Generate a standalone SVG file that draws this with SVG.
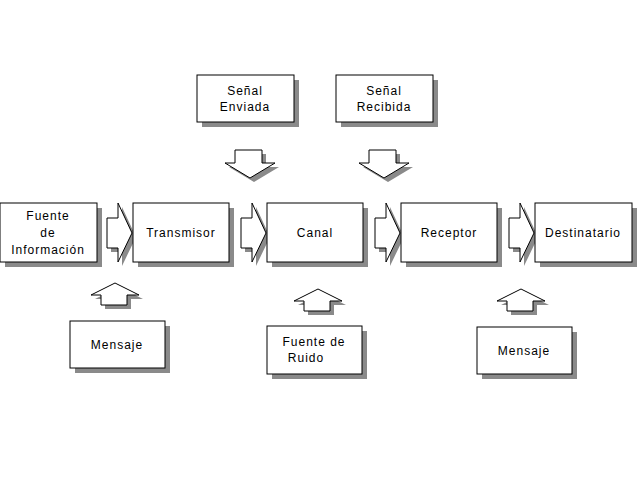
<svg xmlns="http://www.w3.org/2000/svg" width="640" height="480" viewBox="0 0 640 480">
<style>
.b{fill:#fff;stroke:#000;stroke-width:1}
.s{fill:#8a8a8a}
.a{fill:#fff;stroke:#000;stroke-width:1}
text{font-family:"Liberation Sans",Arial,sans-serif;font-size:12px;fill:#000;text-anchor:middle;letter-spacing:1px}
</style>
<defs>
<path id="ra" d="M0,15 H11 V0 L25,30 L11,59 V45 H0 Z"/>
<path id="da" d="M10,0 H37 V13 H50 L25,28 L0,13 H10 Z"/>
<path id="ua" d="M24,0 L48,12 H36 V22 H10 V12 H0 Z"/>
</defs>
<rect width="640" height="480" fill="#fff"/>
<g id="connectors">
<g fill="#8a8a8a"><use href="#ra" x="111" y="207"/><use href="#ra" x="245" y="207"/><use href="#ra" x="379" y="207"/><use href="#ra" x="513" y="207"/>
<use href="#da" x="229" y="154"/><use href="#da" x="363" y="154"/>
<use href="#ua" x="95" y="287"/><use href="#ua" x="298" y="293"/><use href="#ua" x="501" y="293"/></g>
<g class="a"><use href="#ra" x="107" y="203"/><use href="#ra" x="241" y="203"/><use href="#ra" x="375" y="203"/><use href="#ra" x="509" y="203"/>
<use href="#da" x="225" y="150"/><use href="#da" x="359" y="150"/>
<use href="#ua" x="91" y="283"/><use href="#ua" x="294" y="289"/><use href="#ua" x="497" y="289"/></g>
</g>
<g id="fuente"><rect class="s" x="5" y="208" width="97" height="59"/><rect class="b" x="0" y="203" width="97" height="59"/><text x="48" y="220">Fuente</text><text x="48" y="237">de</text><text x="48" y="254">Información</text></g>
<g id="transmisor"><rect class="s" x="138" y="208" width="96" height="59"/><rect class="b" x="133" y="203" width="96" height="59"/><text x="181" y="237">Transmisor</text></g>
<g id="canal"><rect class="s" x="272" y="208" width="96" height="59"/><rect class="b" x="267" y="203" width="96" height="59"/><text x="315" y="237">Canal</text></g>
<g id="receptor"><rect class="s" x="406" y="208" width="96" height="59"/><rect class="b" x="401" y="203" width="96" height="59"/><text x="449" y="237">Receptor</text></g>
<g id="destinatario"><rect class="s" x="540" y="208" width="97" height="59"/><rect class="b" x="535" y="203" width="97" height="59"/><text x="583" y="237">Destinatario</text></g>
<g id="enviada"><rect class="s" x="202" y="80" width="97" height="47"/><rect class="b" x="197" y="75" width="97" height="47"/><text x="245" y="95">Señal</text><text x="245" y="111">Enviada</text></g>
<g id="recibida"><rect class="s" x="341" y="80" width="97" height="47"/><rect class="b" x="336" y="75" width="97" height="47"/><text x="384" y="95">Señal</text><text x="384" y="111">Recibida</text></g>
<g id="mensaje1"><rect class="s" x="75" y="326" width="95" height="47"/><rect class="b" x="70" y="321" width="95" height="47"/><text x="117" y="349">Mensaje</text></g>
<g id="ruido"><rect class="s" x="272" y="331" width="95" height="48"/><rect class="b" x="267" y="326" width="95" height="48"/><text x="314" y="346" letter-spacing="0">Fuente de</text><text x="306" y="362" letter-spacing="0">Ruido</text></g>
<g id="mensaje2"><rect class="s" x="482" y="332" width="95" height="47"/><rect class="b" x="477" y="327" width="95" height="47"/><text x="524" y="355">Mensaje</text></g>
</svg>
